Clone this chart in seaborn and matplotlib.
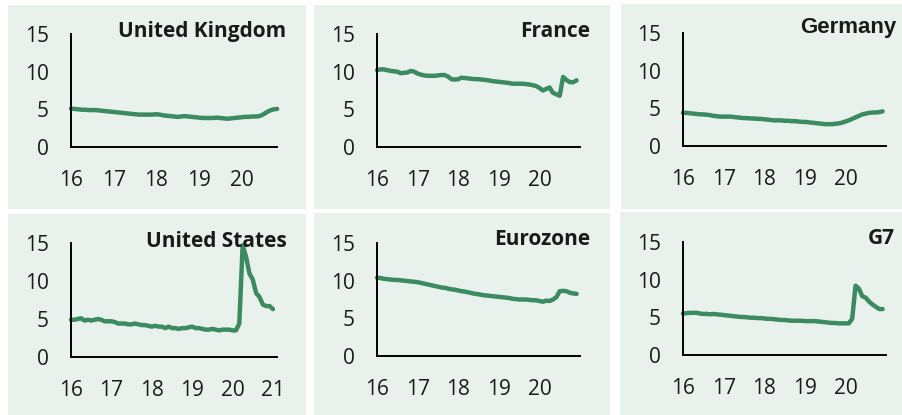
import matplotlib
matplotlib.use("Agg")
import matplotlib.pyplot as plt
from matplotlib.patches import Rectangle
import numpy as np
import seaborn as sns

sns.set_theme(style="white")
plt.rcParams['font.family'] = ['Open Sans', 'DejaVu Sans']

# ---------------- data (monthly unemployment rate, %) ----------------
uk = [5.1, 5.05, 5.0, 4.95, 4.95, 4.9, 4.9, 4.9, 4.85, 4.8, 4.75, 4.7,
      4.65, 4.6, 4.55, 4.5, 4.45, 4.4, 4.35, 4.3, 4.3, 4.3, 4.3, 4.3,
      4.35, 4.3, 4.2, 4.15, 4.1, 4.05, 4.0, 4.05, 4.1, 4.05, 4.0, 3.95,
      3.9, 3.85, 3.85, 3.85, 3.85, 3.9, 3.85, 3.8, 3.75, 3.8, 3.85, 3.9,
      3.95, 4.0, 4.0, 4.05, 4.05, 4.1, 4.3, 4.6, 4.85, 5.0, 5.05]
france = [10.2, 10.3, 10.3, 10.2, 10.1, 10.05, 10.0, 9.8, 9.85, 9.9, 10.1, 10.0,
          9.75, 9.6, 9.5, 9.45, 9.45, 9.45, 9.5, 9.55, 9.55, 9.35, 9.0, 8.95,
          9.0, 9.2, 9.15, 9.1, 9.05, 9.0, 9.0, 8.95, 8.9, 8.85, 8.75, 8.7,
          8.65, 8.6, 8.55, 8.5, 8.4, 8.4, 8.4, 8.4, 8.35, 8.3, 8.2, 8.1,
          7.85, 7.5, 7.7, 7.9, 7.2, 7.0, 6.8, 9.3, 8.9, 8.6, 8.6, 8.85]
germany = [4.4, 4.4, 4.35, 4.3, 4.25, 4.2, 4.2, 4.15, 4.1, 4.0, 3.95, 3.9,
           3.9, 3.9, 3.9, 3.85, 3.8, 3.75, 3.7, 3.7, 3.65, 3.65, 3.6, 3.6,
           3.55, 3.5, 3.45, 3.4, 3.4, 3.4, 3.35, 3.35, 3.3, 3.3, 3.25, 3.2,
           3.2, 3.15, 3.1, 3.05, 3.0, 2.95, 2.9, 2.9, 2.9, 2.95, 3.0, 3.1,
           3.25, 3.4, 3.6, 3.8, 4.0, 4.2, 4.3, 4.4, 4.45, 4.45, 4.5, 4.6]
us = [4.9, 4.9, 5.0, 5.1, 4.8, 4.9, 4.8, 4.9, 5.0, 4.9, 4.7, 4.7,
      4.7, 4.6, 4.4, 4.4, 4.4, 4.3, 4.3, 4.4, 4.3, 4.2, 4.2, 4.1,
      4.0, 4.1, 4.0, 4.0, 3.8, 4.0, 3.8, 3.8, 3.7, 3.8, 3.8, 3.9,
      4.0, 3.8, 3.8, 3.7, 3.6, 3.6, 3.7, 3.6, 3.5, 3.6, 3.6, 3.6,
      3.5, 3.5, 4.4, 14.7, 13.2, 11.0, 10.2, 8.4, 7.9, 6.9, 6.7, 6.7,
      6.3]
eurozone = [10.4, 10.35, 10.25, 10.2, 10.15, 10.1, 10.1, 10.05, 10.0, 9.95, 9.9, 9.85,
            9.8, 9.7, 9.6, 9.5, 9.4, 9.3, 9.2, 9.1, 9.05, 8.95, 8.85, 8.8,
            8.7, 8.6, 8.55, 8.45, 8.35, 8.25, 8.2, 8.1, 8.05, 8.0, 7.95, 7.9,
            7.85, 7.8, 7.75, 7.7, 7.6, 7.55, 7.5, 7.5, 7.5, 7.45, 7.4, 7.4,
            7.3, 7.2, 7.35, 7.3, 7.5, 7.8, 8.6, 8.65, 8.6, 8.4, 8.3, 8.25]
g7 = [5.5, 5.55, 5.6, 5.6, 5.6, 5.5, 5.45, 5.45, 5.4, 5.45, 5.4, 5.35,
      5.3, 5.25, 5.2, 5.15, 5.1, 5.05, 5.05, 5.0, 4.95, 4.95, 4.9, 4.9,
      4.85, 4.8, 4.8, 4.75, 4.7, 4.65, 4.65, 4.6, 4.55, 4.55, 4.55, 4.55,
      4.5, 4.5, 4.5, 4.5, 4.45, 4.4, 4.35, 4.3, 4.25, 4.25, 4.2, 4.2,
      4.2, 4.2, 4.8, 9.2, 8.8, 7.8, 7.6, 7.1, 6.7, 6.4, 6.1, 6.1]

titles = ["United Kingdom", "France", "Germany", "United States", "Eurozone", "G7"]
series = [uk, france, germany, us, eurozone, g7]
start_year = 16
y_ticks = [0, 5, 10, 15]
x_tick_labels = ["16", "17", "18", "19", "20", "21"]

# ---------------- layout (pixels) ----------------
W, H = 902, 415
BG = "#e9f1ec"
LINE = "#3b8a60"
TXT = "#1a1a1a"

fig = plt.figure(figsize=(W / 100, H / 100), dpi=100)
fig.patch.set_facecolor("white")

def fx(x):
    return x / W

def fy(y):
    return 1 - y / H

panels = [(8, 5, 306, 209), (314, 5, 610, 209), (621, 4, 902, 209),
          (8, 214, 306, 415), (314, 213, 610, 415), (620, 212, 902, 415)]
for (x0, y0, x1, y1) in panels:
    fig.patches.append(Rectangle((fx(x0), fy(y1)), fx(x1 - x0), (y1 - y0) / H,
                                 transform=fig.transFigure, facecolor=BG,
                                 edgecolor="none", zorder=-10))

# axes: left px, right px, y0 px (value 0), y15 px (value 15), xmax, labelled ticks, end tick
axes_spec = [
    (71, 277, 147, 34, 20.83, 5, False),
    (377, 580, 147, 34, 21.0, 5, True),
    (683, 886, 146, 33, 21.0, 5, True),
    (71, 277, 357, 243, 21.1, 6, False),
    (377, 580, 356, 243, 21.0, 5, True),
    (683, 886, 355, 242, 21.0, 5, True),
]
title_pos = [(286, 37), (590, 37), (896, 33), (287, 247), (590, 245), (895, 244)]

for i, (vals, title) in enumerate(zip(series, titles)):
    l, r, yb, yt, xmax, nlab, endtick = axes_spec[i]
    ax = fig.add_axes([fx(l), fy(yb), fx(r - l), (yb - yt) / H])
    ax.patch.set_alpha(0)
    x = start_year + np.arange(len(vals)) / 12.0
    sns.lineplot(x=x, y=vals, ax=ax, color=LINE, lw=3.2, clip_on=False)
    ax.set_xlim(start_year, xmax)
    ax.set_ylim(0, 15)
    ticks = list(range(start_year, start_year + nlab))
    labels = x_tick_labels[:nlab]
    if endtick:
        ticks.append(xmax)
        labels.append("")
    ax.set_xticks(ticks)
    ax.set_xticklabels(labels)
    ax.set_yticks(y_ticks)
    ax.set_yticklabels([str(v) for v in y_ticks])
    for s in ["top", "right"]:
        ax.spines[s].set_visible(False)
    for s in ["left", "bottom"]:
        ax.spines[s].set_color("black")
        ax.spines[s].set_linewidth(1.4)
    ax.tick_params(axis="both", which="major", direction="out", length=5.8,
                   width=1.4, color="black", labelsize=15, labelcolor=TXT)
    ax.tick_params(axis="y", pad=10)
    ax.tick_params(axis="x", pad=11)
    ax.grid(False)
    ax.set_xlabel("")
    ax.set_ylabel("")
    tx, ty = title_pos[i]
    fam = ['Liberation Sans', 'DejaVu Sans'] if title == "Germany" else ['Open Sans', 'DejaVu Sans']
    fs = 16 if title == "Germany" else 15
    fig.text(fx(tx), fy(ty), title, ha="right", va="baseline", fontsize=fs,
             fontweight="bold", color=TXT, family=fam)

fig.savefig("out.png", dpi=100, facecolor="white")
